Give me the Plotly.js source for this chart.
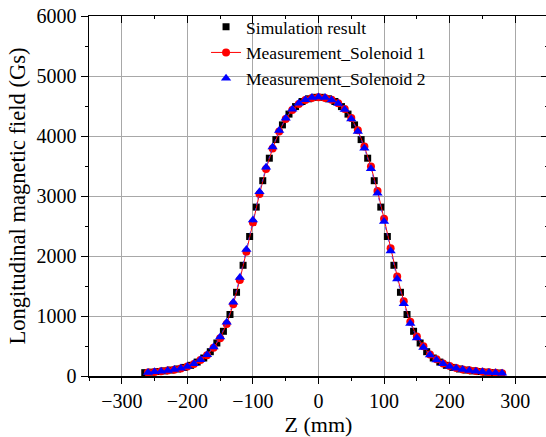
<!DOCTYPE html>
<html>
<head>
<meta charset="utf-8">
<script src="https://cdn.plot.ly/plotly-3.0.1.min.js"></script>
<style>
html,body{margin:0;padding:0;background:#fff;overflow:hidden;}
#chart{width:550px;height:437px;}
</style>
</head>
<body>
<div id="chart"></div>
<script>
// Simulation result (black squares)
const zSim = [-265,-255,-245,-235,-225,-215,-205,-195,-185,-175,-165,-155,-145,-135,-125,-115,-105,-95,-85,-75,-65,-55,-45,-35,-25,-15,-5,5,15,25,35,45,55,65,75,85,95,105,115,125,135,145,155,165,175,185,195,205,215,225,235,245,255,265,275];
const bSim = [56,64,74,85,99,117,143,178,232,300,405,550,745,1025,1395,1845,2325,2815,3255,3630,3940,4185,4365,4490,4575,4620,4645,4645,4620,4575,4490,4365,4185,3940,3630,3255,2815,2325,1845,1395,1025,745,550,405,300,232,178,143,117,99,85,74,64,56,49];

// Measurement positions (mm)
const zMeas = [-260,-250,-240,-230,-220,-210,-200,-190,-180,-170,-160,-150,-140,-130,-120,-110,-100,-90,-80,-70,-60,-50,-40,-30,-20,-10,0,10,20,30,40,50,60,70,80,90,100,110,120,130,140,150,160,170,180,190,200,210,220,230,240,250,260,270,280];
// Measurement_Solenoid 1 (red circles)
const bMeas1 = [58,68,78,90,105,127,157,200,265,345,470,630,865,1195,1600,2070,2560,3035,3450,3790,4075,4285,4435,4535,4600,4635,4645,4635,4605,4545,4450,4300,4095,3825,3490,3085,2620,2130,1660,1245,905,660,495,360,278,210,165,133,110,94,82,72,62,54,47];
// Measurement_Solenoid 2 (blue triangles)
const bMeas2 = [60,70,80,92,108,130,160,205,272,355,485,650,895,1230,1640,2110,2600,3070,3480,3815,4090,4295,4445,4545,4605,4640,4650,4640,4600,4540,4440,4285,4075,3795,3455,3045,2575,2085,1615,1205,875,635,475,348,268,204,160,130,108,92,80,70,60,53,46];

const names = ['Simulation result','Measurement_Solenoid 1','Measurement_Solenoid 2'];
const xTitle = 'Z (mm)';
const yTitle = 'Longitudinal magnetic field (Gs)';

const serif = '"Liberation Serif", "Times New Roman", serif';

const traces = [
  {x:zSim, y:bSim, name:names[0], type:'scatter', mode:'markers',
   marker:{symbol:'square', size:7, color:'#000000'}},
  {x:zMeas, y:bMeas1, name:names[1], type:'scatter', mode:'lines+markers',
   line:{color:'#ff0000', width:1}, marker:{symbol:'circle', size:8, color:'#ff0000'}},
  {x:zMeas, y:bMeas2, name:names[1]+'_line', type:'scatter', mode:'lines', showlegend:false,
   line:{color:'#3a3aff', width:0.8, dash:'dot'}},
  {x:zMeas, y:bMeas2, name:names[2], type:'scatter', mode:'markers',
   marker:{symbol:'triangle-up', size:9, color:'#0000ff'}},
  {x:[], y:[], xaxis:'x2', yaxis:'y2', type:'scatter', mode:'markers', showlegend:false, hoverinfo:'skip'}
];

const layout = {
  width:550, height:437,
  margin:{l:89, r:2, t:16, b:61},
  paper_bgcolor:'#ffffff', plot_bgcolor:'#ffffff',
  font:{family:serif, color:'#000', size:20},
  showlegend:true,
  legend:{x:0.255, y:1.02, xanchor:'left', yanchor:'top', bgcolor:'rgba(0,0,0,0)',
    font:{family:serif, size:17.5, color:'#000'}, tracegroupgap:0, itemwidth:30},
  xaxis:{range:[-350,350], dtick:100, tick0:0, showgrid:true, gridcolor:'#a8a8a8', gridwidth:1,
    zeroline:false, showline:true, linecolor:'#000', linewidth:1.5, mirror:true,
    ticks:'outside', ticklen:6, tickwidth:1, tickcolor:'#000',
    minor:{dtick:50, ticks:'outside', ticklen:3, tickwidth:1, tickcolor:'#000', showgrid:false},
    tickfont:{family:serif, size:20},
    title:{text:xTitle, font:{family:serif, size:22}, standoff:6}},
  yaxis:{range:[0,6000], dtick:1000, tick0:0, showgrid:true, gridcolor:'#a8a8a8', gridwidth:1,
    zeroline:false, showline:true, linecolor:'#000', linewidth:1.5, mirror:true,
    ticks:'outside', ticklen:7, tickwidth:1, tickcolor:'#000',
    minor:{dtick:500, ticks:'outside', ticklen:3, tickwidth:1, tickcolor:'#000', showgrid:false},
    tickfont:{family:serif, size:20},
    title:{text:yTitle, font:{family:serif, size:22.5}, standoff:4}},
  xaxis2:{overlaying:'x', side:'top', matches:'x', range:[-350,350], dtick:100, tick0:0,
    showgrid:false, zeroline:false, showline:false, showticklabels:false,
    ticks:'inside', ticklen:7, tickwidth:1, tickcolor:'#000',
    minor:{dtick:50, ticks:'inside', ticklen:3, tickwidth:1, tickcolor:'#000', showgrid:false}},
  yaxis2:{overlaying:'y', side:'right', range:[0,6000], dtick:1000, tick0:0,
    showgrid:false, zeroline:false, showline:false, showticklabels:false,
    ticks:'inside', ticklen:7, tickwidth:1, tickcolor:'#000',
    minor:{dtick:500, ticks:'inside', ticklen:3, tickwidth:1, tickcolor:'#000', showgrid:false}}
};

Plotly.newPlot('chart', traces, layout, {staticPlot:true, displayModeBar:false});
</script>
</body>
</html>
